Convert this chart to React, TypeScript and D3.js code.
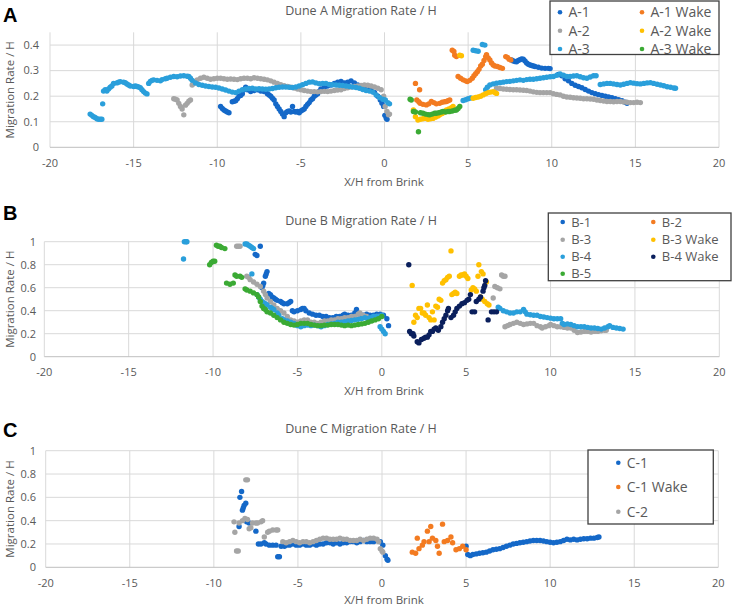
import React from "react"
import { scaleLinear } from "d3"

type P = [number, number]

// ---- data ----
const xTicks = [-20, -15, -10, -5, 0, 5, 10, 15, 20]
const yTicksA = [0, 0.1, 0.2, 0.3, 0.4]
const yTicksBC = [0, 0.2, 0.4, 0.6, 0.8, 1]

const a1: P[] = [
  [-9.8, 0.16], [-9.7, 0.152], [-9.6, 0.146], [-9.5, 0.142], [-9.4, 0.138], [-9.3, 0.135], [-9.1, 0.178],
  [-9.0, 0.18], [-8.9, 0.182], [-8.8, 0.19], [-8.7, 0.2], [-8.6, 0.203], [-8.5, 0.21], [-8.4, 0.225],
  [-8.3, 0.235], [-8.2, 0.225], [-8.0, 0.218], [-7.8, 0.222], [-7.6, 0.225], [-7.4, 0.22], [-7.2, 0.218],
  [-7.0, 0.21], [-6.9, 0.205], [-6.8, 0.2], [-6.7, 0.192], [-6.6, 0.185], [-6.5, 0.17], [-6.4, 0.16],
  [-6.3, 0.15], [-6.2, 0.14], [-6.1, 0.13], [-6.0, 0.12], [-5.9, 0.135], [-5.8, 0.14], [-5.7, 0.142],
  [-5.6, 0.138], [-5.5, 0.16], [-5.4, 0.14], [-5.3, 0.138], [-5.2, 0.14], [-5.1, 0.135], [-5.0, 0.142],
  [-4.9, 0.146], [-4.8, 0.15], [-4.7, 0.16], [-4.6, 0.168], [-4.5, 0.175], [-4.4, 0.185], [-4.3, 0.19],
  [-4.2, 0.2], [-4.1, 0.205], [-4.0, 0.21], [-3.9, 0.22], [-3.8, 0.228], [-3.6, 0.234], [-3.4, 0.24],
  [-3.2, 0.244], [-3.0, 0.25], [-2.8, 0.255], [-2.6, 0.258], [-2.4, 0.252], [-2.2, 0.255], [-2.0, 0.26],
  [-1.8, 0.252], [-1.6, 0.244], [-1.4, 0.236], [-1.2, 0.231], [-1.0, 0.228], [-0.8, 0.225], [-0.6, 0.215],
  [-0.4, 0.2], [-0.25, 0.185], [-0.15, 0.172], [-0.05, 0.16], [0.02, 0.125], [0.1, 0.115], [0.15, 0.11],
  [7.6, 0.342], [7.7, 0.338], [7.8, 0.336], [7.9, 0.335], [8.0, 0.34], [8.1, 0.343], [8.2, 0.346],
  [8.3, 0.345], [8.4, 0.338], [8.5, 0.33], [8.6, 0.325], [8.7, 0.322], [8.8, 0.32], [8.9, 0.318],
  [9.0, 0.316], [9.2, 0.313], [9.4, 0.31], [9.6, 0.309], [9.8, 0.309], [9.9, 0.308], [10.4, 0.285],
  [10.6, 0.28], [10.8, 0.268], [11.0, 0.26], [11.2, 0.25], [11.4, 0.243], [11.6, 0.238], [11.8, 0.233],
  [12.0, 0.226], [12.2, 0.22], [12.4, 0.214], [12.6, 0.21], [12.8, 0.206], [13.0, 0.203], [13.2, 0.2],
  [13.4, 0.197], [13.6, 0.194], [13.8, 0.19], [14.0, 0.186], [14.2, 0.182], [14.4, 0.176], [14.5, 0.172],
]

const a2: P[] = [
  [-12.6, 0.19], [-12.5, 0.188], [-12.4, 0.185], [-12.3, 0.172], [-12.2, 0.16], [-12.1, 0.15], [-12.0, 0.127],
  [-11.9, 0.165], [-11.8, 0.172], [-11.7, 0.18], [-11.6, 0.185], [-11.5, 0.244], [-11.4, 0.25], [-11.3, 0.258],
  [-11.2, 0.264], [-11.0, 0.27], [-10.8, 0.274], [-10.6, 0.27], [-10.4, 0.266], [-10.2, 0.268], [-10.0, 0.27],
  [-9.8, 0.27], [-9.6, 0.268], [-9.4, 0.266], [-9.2, 0.267], [-9.0, 0.266], [-8.8, 0.265], [-8.6, 0.268],
  [-8.4, 0.27], [-8.2, 0.27], [-8.0, 0.268], [-7.8, 0.272], [-7.6, 0.27], [-7.4, 0.268], [-7.2, 0.266],
  [-7.0, 0.264], [-6.8, 0.26], [-6.6, 0.255], [-6.4, 0.25], [-6.2, 0.245], [-6.0, 0.241], [-5.8, 0.238],
  [-5.6, 0.235], [-5.4, 0.232], [-5.2, 0.228], [-5.0, 0.225], [-4.8, 0.222], [-4.6, 0.22], [-4.4, 0.218],
  [-4.2, 0.218], [-4.0, 0.217], [-3.8, 0.218], [-3.6, 0.219], [-3.4, 0.218], [-3.2, 0.22], [-3.0, 0.222],
  [-2.8, 0.224], [-2.6, 0.225], [-2.4, 0.23], [-2.2, 0.233], [-2.0, 0.236], [-1.8, 0.238], [-1.6, 0.24],
  [-1.4, 0.242], [-1.2, 0.244], [-1.0, 0.243], [-0.8, 0.24], [-0.6, 0.236], [-0.4, 0.231], [-0.2, 0.225],
  [-0.05, 0.2], [0.04, 0.16], [0.15, 0.14], [0.24, 0.127], [0.3, 0.13],
  [6.7, 0.231], [6.9, 0.23], [7.1, 0.228], [7.3, 0.227], [7.5, 0.226], [7.7, 0.225], [7.9, 0.225],
  [8.1, 0.224], [8.3, 0.223], [8.5, 0.222], [8.7, 0.22], [8.9, 0.217], [9.1, 0.215], [9.3, 0.214],
  [9.5, 0.214], [9.7, 0.214], [9.9, 0.214], [10.1, 0.21], [10.3, 0.207], [10.5, 0.205], [10.7, 0.2],
  [10.9, 0.197], [11.1, 0.196], [11.3, 0.194], [11.5, 0.193], [11.7, 0.192], [11.9, 0.19], [12.1, 0.19],
  [12.3, 0.189], [12.5, 0.188], [12.7, 0.185], [12.9, 0.183], [13.1, 0.181], [13.3, 0.179], [13.5, 0.179],
  [13.7, 0.178], [13.9, 0.179], [14.1, 0.179], [14.3, 0.177], [14.5, 0.176], [14.7, 0.175], [14.9, 0.175],
  [15.1, 0.176], [15.3, 0.175],
]

const a3: P[] = [
  [-17.6, 0.13], [-17.5, 0.125], [-17.4, 0.12], [-17.3, 0.117], [-17.2, 0.112], [-17.1, 0.11], [-17.0, 0.11],
  [-16.9, 0.11], [-16.85, 0.17], [-16.8, 0.22], [-16.7, 0.225], [-16.6, 0.22], [-16.5, 0.228], [-16.4, 0.235],
  [-16.3, 0.24], [-16.2, 0.25], [-16.0, 0.252], [-15.9, 0.255], [-15.8, 0.257], [-15.6, 0.255], [-15.5, 0.253],
  [-15.4, 0.248], [-15.3, 0.244], [-15.2, 0.24], [-15.0, 0.238], [-14.9, 0.24], [-14.8, 0.238], [-14.7, 0.236],
  [-14.6, 0.233], [-14.5, 0.225], [-14.4, 0.218], [-14.3, 0.212], [-14.2, 0.209], [-14.1, 0.25], [-14.0, 0.258],
  [-13.9, 0.262], [-13.8, 0.264], [-13.6, 0.262], [-13.4, 0.26], [-13.3, 0.265], [-13.1, 0.268], [-13.0, 0.27],
  [-12.8, 0.274], [-12.6, 0.277], [-12.4, 0.276], [-12.2, 0.279], [-12.0, 0.28], [-11.8, 0.278], [-11.7, 0.277],
  [-11.6, 0.27], [-11.5, 0.262], [-11.3, 0.252], [-11.1, 0.246], [-10.9, 0.243], [-10.7, 0.24], [-10.5, 0.238],
  [-10.3, 0.236], [-10.1, 0.235], [-9.9, 0.232], [-9.7, 0.228], [-9.5, 0.224], [-9.3, 0.22], [-9.1, 0.216],
  [-8.9, 0.214], [-8.7, 0.22], [-8.5, 0.225], [-8.3, 0.228], [-8.1, 0.23], [-7.9, 0.231], [-7.7, 0.228],
  [-7.5, 0.229], [-7.3, 0.228], [-7.1, 0.227], [-6.9, 0.228], [-6.7, 0.23], [-6.5, 0.233], [-6.3, 0.235],
  [-6.1, 0.236], [-5.9, 0.236], [-5.7, 0.235], [-5.5, 0.234], [-5.3, 0.236], [-5.1, 0.24], [-4.9, 0.245],
  [-4.7, 0.25], [-4.5, 0.255], [-4.3, 0.256], [-4.1, 0.252], [-3.9, 0.249], [-3.7, 0.25], [-3.5, 0.25],
  [-3.3, 0.246], [-3.1, 0.245], [-2.9, 0.244], [-2.7, 0.243], [-2.5, 0.242], [-2.3, 0.24], [-2.1, 0.238],
  [-1.9, 0.236], [-1.7, 0.234], [-1.5, 0.231], [-1.3, 0.226], [-1.1, 0.222], [-0.9, 0.22], [-0.7, 0.216],
  [-0.5, 0.205], [-0.3, 0.195], [-0.1, 0.188], [0.05, 0.185], [0.2, 0.175], [0.3, 0.17],
  [4.7, 0.183], [4.85, 0.186], [5.0, 0.19], [5.15, 0.193], [5.3, 0.38], [5.45, 0.378], [5.6, 0.376],
  [5.85, 0.402], [6.0, 0.4], [6.05, 0.225], [6.15, 0.235], [6.3, 0.244], [6.5, 0.248], [6.7, 0.251],
  [6.9, 0.253], [7.1, 0.255], [7.3, 0.257], [7.5, 0.258], [7.7, 0.26], [7.9, 0.262], [8.1, 0.264],
  [8.3, 0.262], [8.5, 0.265], [8.7, 0.266], [8.9, 0.266], [9.1, 0.268], [9.3, 0.27], [9.5, 0.272],
  [9.7, 0.274], [9.9, 0.276], [10.1, 0.277], [10.3, 0.282], [10.5, 0.287], [10.7, 0.282], [10.9, 0.277],
  [11.1, 0.277], [11.3, 0.279], [11.5, 0.28], [11.7, 0.276], [11.9, 0.272], [12.1, 0.27], [12.3, 0.275],
  [12.5, 0.28], [12.65, 0.28], [12.9, 0.246], [13.1, 0.248], [13.3, 0.25], [13.5, 0.25], [13.7, 0.248],
  [13.9, 0.246], [14.1, 0.244], [14.3, 0.247], [14.5, 0.25], [14.7, 0.253], [14.9, 0.251], [15.1, 0.249],
  [15.3, 0.248], [15.5, 0.25], [15.7, 0.252], [15.9, 0.253], [16.1, 0.25], [16.3, 0.247], [16.5, 0.244],
  [16.7, 0.241], [16.9, 0.237], [17.1, 0.235], [17.3, 0.232], [17.4, 0.231],
]

const a1Wake: P[] = [
  [1.85, 0.25], [2.1, 0.225], [1.93, 0.185], [2.05, 0.178], [2.13, 0.172], [2.3, 0.168], [2.5, 0.166],
  [2.65, 0.17], [2.8, 0.179], [2.95, 0.175], [3.1, 0.17], [3.3, 0.172], [3.45, 0.176], [3.6, 0.178],
  [3.7, 0.179], [3.8, 0.182], [3.9, 0.185], [4.05, 0.38], [4.15, 0.375], [4.2, 0.36], [4.3, 0.355],
  [4.4, 0.277], [4.55, 0.27], [4.7, 0.264], [4.85, 0.26], [4.95, 0.257], [5.1, 0.262], [5.25, 0.27],
  [5.35, 0.28], [5.45, 0.288], [5.55, 0.296], [5.65, 0.305], [5.75, 0.318], [5.85, 0.325], [5.95, 0.34],
  [6.05, 0.355], [6.1, 0.362], [6.2, 0.35], [6.3, 0.342], [6.4, 0.33], [6.5, 0.322], [6.6, 0.318],
  [6.75, 0.316], [6.9, 0.312], [7.05, 0.309], [7.25, 0.355], [7.35, 0.352], [7.45, 0.345], [7.55, 0.342],
]

const a2Wake: P[] = [
  [1.73, 0.146], [1.85, 0.12], [2.0, 0.107], [2.15, 0.11], [2.3, 0.112], [2.4, 0.113], [2.6, 0.11],
  [2.75, 0.112], [2.9, 0.113], [3.05, 0.118], [3.2, 0.122], [3.3, 0.127], [3.45, 0.132], [3.6, 0.138],
  [3.7, 0.146], [3.85, 0.15], [4.0, 0.155], [4.1, 0.16], [4.5, 0.36], [4.6, 0.358], [5.3, 0.192],
  [5.45, 0.195], [5.6, 0.197], [5.75, 0.2], [5.9, 0.205], [6.05, 0.21], [6.2, 0.214], [6.35, 0.216],
  [6.5, 0.218], [6.6, 0.214], [6.7, 0.211],
]

const a3Wake: P[] = [
  [1.53, 0.188], [1.6, 0.185], [1.73, 0.14], [1.85, 0.138], [2.03, 0.061], [2.15, 0.135], [2.3, 0.133],
  [2.45, 0.13], [2.6, 0.128], [2.7, 0.127], [2.85, 0.13], [3.0, 0.133], [3.1, 0.133], [3.25, 0.135],
  [3.4, 0.138], [3.5, 0.14], [3.65, 0.138], [3.8, 0.14], [3.9, 0.14], [4.05, 0.142], [4.2, 0.145],
  [4.3, 0.146], [4.4, 0.152], [4.5, 0.16],
]

const b1: P[] = [
  [-7.5, 0.89], [-7.4, 0.88], [-7.2, 0.96], [-6.8, 0.74], [-6.85, 0.72], [-6.9, 0.7], [-7.0, 0.64],
  [-7.05, 0.62], [-7.1, 0.6], [-6.7, 0.55], [-6.6, 0.54], [-6.5, 0.52], [-6.4, 0.51], [-6.3, 0.5],
  [-6.2, 0.49], [-6.0, 0.48], [-5.9, 0.47], [-5.8, 0.46], [-5.6, 0.46], [-5.5, 0.47], [-5.4, 0.48],
  [-5.3, 0.4], [-5.2, 0.39], [-5.0, 0.4], [-4.8, 0.41], [-4.7, 0.42], [-4.6, 0.42], [-4.5, 0.4],
  [-4.3, 0.38], [-4.1, 0.37], [-3.9, 0.36], [-3.7, 0.36], [-3.5, 0.35], [-3.3, 0.35], [-3.1, 0.34],
  [-2.9, 0.34], [-2.7, 0.35], [-2.5, 0.35], [-2.3, 0.36], [-2.2, 0.37], [-2.0, 0.36], [-1.8, 0.36],
  [-1.6, 0.38], [-1.5, 0.41], [-1.3, 0.37], [-1.1, 0.36], [-0.9, 0.37], [-0.7, 0.36], [-0.5, 0.36],
  [-0.3, 0.37], [-0.1, 0.37], [0.1, 0.36], [0.3, 0.33], [0.4, 0.27],
]

const b2: P[] = []

const b3: P[] = [
  [-8.6, 0.96], [-8.5, 0.96], [-8.4, 0.96], [-8.0, 0.7], [-7.9, 0.69], [-7.8, 0.67], [-7.6, 0.65],
  [-7.4, 0.63], [-7.2, 0.61], [-7.0, 0.57], [-6.9, 0.54], [-6.8, 0.51], [-6.6, 0.48], [-6.4, 0.45],
  [-6.2, 0.42], [-6.0, 0.4], [-5.8, 0.38], [-5.6, 0.35], [-5.4, 0.32], [-5.2, 0.31], [-5.0, 0.3],
  [-4.8, 0.31], [-4.6, 0.32], [-4.4, 0.32], [-4.2, 0.3], [-4.0, 0.3], [-3.8, 0.29], [-3.6, 0.3],
  [-3.4, 0.31], [-3.2, 0.31], [-3.0, 0.32], [-2.8, 0.32], [-2.6, 0.33], [-2.4, 0.33], [-2.2, 0.34],
  [-2.0, 0.34], [-1.8, 0.35], [-1.6, 0.35], [-1.4, 0.37], [-1.3, 0.38], [-1.1, 0.36], [-0.9, 0.35],
  [-0.7, 0.33], [-0.5, 0.34], [-0.3, 0.35], [-0.2, 0.35],
  [6.6, 0.51], [6.7, 0.61], [6.85, 0.6], [7.0, 0.59], [7.1, 0.71], [7.2, 0.7], [7.3, 0.7],
  [7.3, 0.26], [7.45, 0.27], [7.6, 0.28], [7.8, 0.29], [8.0, 0.3], [8.2, 0.29], [8.4, 0.28],
  [8.6, 0.285], [8.8, 0.29], [9.0, 0.29], [9.2, 0.27], [9.4, 0.26], [9.5, 0.25], [9.7, 0.26],
  [9.9, 0.27], [10.0, 0.28], [10.2, 0.27], [10.4, 0.26], [10.6, 0.26], [10.8, 0.255], [11.0, 0.25],
  [11.2, 0.25], [11.4, 0.23], [11.6, 0.21], [11.8, 0.215], [12.0, 0.22], [12.2, 0.22], [12.4, 0.215],
  [12.6, 0.22], [12.8, 0.22], [13.0, 0.225], [13.2, 0.23], [13.3, 0.23],
]

const b4: P[] = [
  [-11.7, 1.0], [-11.6, 1.0], [-11.55, 1.0], [-11.75, 0.85], [-8.1, 0.98], [-8.0, 0.98], [-7.9, 0.97],
  [-7.8, 0.96], [-7.7, 0.95], [-7.6, 0.94], [-7.7, 0.72], [-7.4, 0.54], [-7.3, 0.52], [-7.2, 0.5],
  [-7.1, 0.48], [-7.0, 0.47], [-6.9, 0.46], [-6.8, 0.45], [-6.6, 0.43], [-6.5, 0.42], [-6.4, 0.41],
  [-6.2, 0.38], [-6.1, 0.36], [-5.9, 0.33], [-5.8, 0.32], [-5.6, 0.31], [-5.4, 0.3], [-5.2, 0.29],
  [-5.0, 0.27], [-4.8, 0.26], [-4.6, 0.27], [-4.4, 0.275], [-4.2, 0.27], [-4.0, 0.275], [-3.8, 0.27],
  [-3.6, 0.26], [-3.4, 0.27], [-3.2, 0.28], [-3.0, 0.285], [-2.8, 0.29], [-2.6, 0.3], [-2.4, 0.3],
  [-2.2, 0.305], [-2.0, 0.31], [-1.8, 0.315], [-1.6, 0.32], [-1.4, 0.325], [-1.2, 0.33], [-1.0, 0.34],
  [-0.85, 0.33], [-0.7, 0.34], [-0.5, 0.35], [-0.3, 0.35], [-0.1, 0.35], [0.0, 0.36], [-0.1, 0.26],
  [0.0, 0.24], [0.1, 0.22], [0.2, 0.2],
  [6.9, 0.43], [7.0, 0.42], [7.2, 0.4], [7.4, 0.39], [7.6, 0.38], [7.8, 0.38], [8.0, 0.39],
  [8.2, 0.39], [8.4, 0.41], [8.5, 0.39], [8.6, 0.37], [8.8, 0.365], [9.0, 0.36], [9.2, 0.36],
  [9.4, 0.35], [9.6, 0.345], [9.8, 0.34], [10.0, 0.335], [10.2, 0.33], [10.4, 0.33], [10.6, 0.33],
  [10.7, 0.29], [10.8, 0.28], [11.0, 0.285], [11.2, 0.28], [11.4, 0.27], [11.6, 0.26], [11.8, 0.26],
  [12.0, 0.26], [12.2, 0.255], [12.4, 0.25], [12.6, 0.25], [12.8, 0.245], [13.0, 0.24], [13.2, 0.25],
  [13.4, 0.26], [13.5, 0.27], [13.7, 0.255], [13.9, 0.25], [14.1, 0.245], [14.3, 0.24],
]

const b5: P[] = [
  [-10.2, 0.8], [-10.1, 0.82], [-10.0, 0.83], [-9.9, 0.83], [-9.8, 0.97], [-9.7, 0.96], [-9.6, 0.96],
  [-9.5, 0.95], [-9.3, 0.94], [-9.2, 0.64], [-9.0, 0.63], [-8.8, 0.64], [-8.7, 0.71], [-8.6, 0.7],
  [-8.4, 0.7], [-8.3, 0.69], [-8.1, 0.59], [-8.0, 0.58], [-7.8, 0.57], [-7.6, 0.555], [-7.4, 0.54],
  [-7.3, 0.52], [-7.2, 0.48], [-7.1, 0.44], [-7.0, 0.42], [-6.9, 0.41], [-6.8, 0.39], [-6.6, 0.38],
  [-6.4, 0.36], [-6.2, 0.34], [-6.0, 0.32], [-5.8, 0.3], [-5.6, 0.29], [-5.4, 0.28], [-5.2, 0.275],
  [-5.0, 0.28], [-4.8, 0.29], [-4.6, 0.29], [-4.4, 0.29], [-4.2, 0.28], [-4.0, 0.275], [-3.8, 0.27],
  [-3.6, 0.27], [-3.4, 0.275], [-3.2, 0.275], [-3.0, 0.28], [-2.8, 0.28], [-2.6, 0.28], [-2.4, 0.275],
  [-2.2, 0.27], [-2.0, 0.275], [-1.8, 0.27], [-1.6, 0.275], [-1.4, 0.28], [-1.2, 0.285], [-1.0, 0.29],
  [-0.8, 0.3], [-0.6, 0.31], [-0.4, 0.32], [-0.2, 0.33], [0.0, 0.35],
]

const b3Wake: P[] = [
  [1.8, 0.62], [1.9, 0.3], [2.0, 0.36], [2.1, 0.34], [2.2, 0.42], [2.3, 0.42], [2.4, 0.38], [2.5, 0.38],
  [2.6, 0.36], [2.7, 0.45], [2.8, 0.34], [2.9, 0.32], [3.0, 0.39], [3.1, 0.32], [3.2, 0.44], [3.3, 0.43],
  [3.4, 0.5], [3.5, 0.49], [3.6, 0.64], [3.7, 0.66], [3.8, 0.67], [3.9, 0.69], [4.0, 0.7], [4.1, 0.92],
  [4.15, 0.54], [4.25, 0.55], [4.35, 0.56], [4.45, 0.55], [4.6, 0.7], [4.7, 0.71], [4.8, 0.71], [4.9, 0.72],
  [5.0, 0.7], [5.1, 0.68], [5.3, 0.58], [5.4, 0.6], [5.5, 0.59], [5.6, 0.57], [5.7, 0.7], [5.75, 0.8],
  [5.9, 0.74], [6.0, 0.72], [5.85, 0.52], [5.95, 0.5], [6.1, 0.48], [6.2, 0.65], [6.25, 0.46], [6.35, 0.45],
]

const b4Wake: P[] = [
  [1.6, 0.8], [1.65, 0.22], [1.75, 0.2], [1.85, 0.2], [1.9, 0.18], [2.1, 0.13], [2.2, 0.12], [2.35, 0.15],
  [2.5, 0.16], [2.6, 0.17], [2.7, 0.17], [2.8, 0.19], [2.9, 0.22], [3.0, 0.22], [3.1, 0.24], [3.2, 0.25],
  [3.35, 0.23], [3.5, 0.26], [3.6, 0.3], [3.7, 0.33], [3.8, 0.36], [3.9, 0.4], [3.95, 0.42], [4.1, 0.34],
  [4.25, 0.36], [4.35, 0.39], [4.45, 0.42], [4.6, 0.44], [4.75, 0.46], [4.9, 0.47], [5.05, 0.49], [5.15, 0.5],
  [5.25, 0.54], [5.35, 0.39], [5.5, 0.39], [5.6, 0.48], [5.75, 0.5], [5.85, 0.52], [6.0, 0.57], [6.05, 0.6],
  [6.1, 0.62], [6.15, 0.66], [6.3, 0.32], [6.5, 0.39], [6.65, 0.39], [6.8, 0.39],
]

const c1: P[] = [
  [-8.5, 0.35], [-8.45, 0.6], [-8.35, 0.65], [-8.3, 0.49], [-8.25, 0.51], [-8.2, 0.53], [-8.1, 0.55],
  [-8.05, 0.39], [-7.9, 0.38], [-7.5, 0.31], [-7.35, 0.2], [-7.2, 0.2], [-7.0, 0.21], [-6.9, 0.2],
  [-6.7, 0.19], [-6.5, 0.19], [-6.3, 0.19], [-6.2, 0.09], [-6.1, 0.09], [-6.0, 0.18], [-5.8, 0.18],
  [-5.7, 0.19], [-5.5, 0.19], [-5.3, 0.2], [-5.1, 0.19], [-4.9, 0.19], [-4.7, 0.2], [-4.5, 0.19],
  [-4.3, 0.19], [-4.1, 0.2], [-3.9, 0.19], [-3.7, 0.2], [-3.5, 0.2], [-3.3, 0.21], [-3.1, 0.21],
  [-2.9, 0.2], [-2.7, 0.21], [-2.5, 0.2], [-2.3, 0.21], [-2.1, 0.21], [-1.9, 0.22], [-1.7, 0.22],
  [-1.5, 0.21], [-1.3, 0.22], [-1.1, 0.23], [-0.9, 0.22], [-0.7, 0.22], [-0.5, 0.22], [-0.3, 0.23],
  [-0.1, 0.22], [0.05, 0.19], [0.2, 0.1], [0.3, 0.07], [0.35, 0.06],
  [5.0, 0.18], [5.1, 0.11], [5.25, 0.1], [5.4, 0.11], [5.6, 0.115], [5.8, 0.12], [6.0, 0.125], [6.2, 0.13],
  [6.4, 0.14], [6.6, 0.15], [6.8, 0.155], [7.0, 0.16], [7.2, 0.17], [7.4, 0.18], [7.6, 0.19], [7.8, 0.2],
  [8.0, 0.205], [8.2, 0.21], [8.4, 0.215], [8.6, 0.22], [8.8, 0.225], [9.0, 0.23], [9.2, 0.23], [9.4, 0.23],
  [9.6, 0.225], [9.8, 0.22], [10.0, 0.215], [10.2, 0.21], [10.4, 0.215], [10.6, 0.22], [10.8, 0.23],
  [11.0, 0.24], [11.2, 0.235], [11.4, 0.24], [11.6, 0.235], [11.8, 0.24], [12.0, 0.245], [12.2, 0.245],
  [12.4, 0.25], [12.6, 0.25], [12.8, 0.255], [12.9, 0.26],
]

const c1Wake: P[] = [
  [1.8, 0.13], [2.0, 0.12], [2.1, 0.25], [2.2, 0.16], [2.4, 0.19], [2.5, 0.22], [2.7, 0.31], [2.8, 0.22],
  [2.9, 0.35], [3.0, 0.25], [3.2, 0.23], [3.3, 0.18], [3.4, 0.12], [3.6, 0.37], [3.7, 0.22], [3.9, 0.23],
  [4.1, 0.26], [4.2, 0.21], [4.4, 0.15], [4.6, 0.16], [4.8, 0.18], [5.0, 0.15],
]

const c2: P[] = [
  [-8.8, 0.39], [-8.75, 0.3], [-8.65, 0.14], [-8.55, 0.14], [-8.5, 0.38], [-8.3, 0.4], [-8.1, 0.75],
  [-8.0, 0.75], [-8.15, 0.42], [-8.0, 0.41], [-7.9, 0.33], [-7.8, 0.34], [-7.7, 0.38], [-7.5, 0.38],
  [-7.4, 0.38], [-7.2, 0.39], [-7.1, 0.4], [-7.0, 0.26], [-6.8, 0.3], [-6.7, 0.31], [-6.5, 0.32],
  [-6.3, 0.32], [-6.2, 0.32], [-5.9, 0.22], [-5.7, 0.21], [-5.5, 0.22], [-5.3, 0.23], [-5.1, 0.22],
  [-4.9, 0.21], [-4.7, 0.22], [-4.5, 0.22], [-4.3, 0.21], [-4.1, 0.22], [-3.9, 0.23], [-3.7, 0.24],
  [-3.5, 0.25], [-3.3, 0.25], [-3.1, 0.24], [-2.9, 0.24], [-2.7, 0.24], [-2.5, 0.25], [-2.3, 0.24],
  [-2.1, 0.24], [-1.9, 0.23], [-1.7, 0.23], [-1.5, 0.23], [-1.3, 0.24], [-1.1, 0.23], [-0.9, 0.24],
  [-0.7, 0.25], [-0.5, 0.25], [-0.3, 0.24], [-0.2, 0.22], [-0.1, 0.16], [0.0, 0.14], [0.05, 0.13],
]

// ---- colours ----
const BLUE = "#1468c8"
const GRAY = "#a5a5a5"
const LBLUE = "#2a9fdb"
const ORANGE = "#f37b21"
const YELLOW = "#ffc000"
const GREEN = "#3baa34"
const NAVY = "#0a1f5c"

type Series = { name: string; color: string; data: P[] }

type LegendCfg = {
  x0: number
  y0: number
  x1: number
  y1: number
  cols: number[] // marker x positions
  rows: number[] // row y positions
  fontSize: number
}

type PanelCfg = {
  letter: string
  title: string
  letterBase: number
  titleBase: number
  xRange: [number, number]
  yRange: [number, number]
  yMax: number
  yTicks: number[]
  yLabelRight: number
  xLabelY: number
  xTitleY: number
  legendSeries: Series[] // legend order (row-major)
  drawOrder: string[] // Excel plot order
  legend: LegendCfg
}

const FONT = "'Open Sans', 'Noto Sans', sans-serif"
const TXT = "#595959"

const Panel = ({ cfg }: { cfg: PanelCfg }) => {
  const x = scaleLinear().domain([-20, 20]).range(cfg.xRange)
  const y = scaleLinear().domain([0, cfg.yMax]).range(cfg.yRange)
  const [left, right] = cfg.xRange
  const [bottom, top] = cfg.yRange
  const byName = new Map(cfg.legendSeries.map((s) => [s.name, s]))
  const plotted = cfg.drawOrder.map((n) => byName.get(n)!)

  return (
    <g>
      <text x={3} y={cfg.letterBase} fontFamily="'Liberation Sans', Arial, sans-serif" fontWeight="bold" fontSize={20} fill="#000">
        {cfg.letter}
      </text>
      <text x={361} y={cfg.titleBase} textAnchor="middle" fontFamily={FONT} fontSize={12.5} fill={TXT}>
        {cfg.title}
      </text>

      {/* gridlines */}
      {cfg.yTicks.filter((t) => t > 0).map((t) => (
        <line key={"h" + t} x1={left} x2={right} y1={y(t)} y2={y(t)} stroke="#d9d9d9" strokeWidth={1} />
      ))}
      {xTicks.map((t) => (
        <line key={"v" + t} x1={x(t)} x2={x(t)} y1={bottom} y2={top} stroke="#d9d9d9" strokeWidth={1} />
      ))}
      <line x1={left} x2={right} y1={bottom} y2={bottom} stroke="#bfbfbf" strokeWidth={1} />

      {/* tick labels */}
      {cfg.yTicks.map((t) => (
        <text key={"yl" + t} x={cfg.yLabelRight} y={y(t)} dy="0.35em" textAnchor="end" fontFamily={FONT} fontSize={11} fill={TXT}>
          {t}
        </text>
      ))}
      {xTicks.map((t) => (
        <text key={"xl" + t} x={x(t)} y={cfg.xLabelY} dy="0.35em" textAnchor="middle" fontFamily={FONT} fontSize={11} fill={TXT}>
          {t}
        </text>
      ))}

      {/* axis titles */}
      <text x={384} y={cfg.xTitleY} dy="0.35em" textAnchor="middle" fontFamily={FONT} fontSize={11.5} fill={TXT}>
        X/H from Brink
      </text>
      <text
        transform={`translate(10,${(bottom + top) / 2}) rotate(-90)`}
        dy="0.35em"
        textAnchor="middle"
        fontFamily={FONT}
        fontSize={11.5}
        fill={TXT}
      >
        Migration Rate / H
      </text>

      {/* points */}
      {plotted.map((s) => (
        <g key={s.name} fill={s.color}>
          {s.data.map((d, i) => (
            <circle key={i} cx={x(d[0])} cy={y(d[1])} r={2.7} />
          ))}
        </g>
      ))}

      <Legend cfg={cfg} />
    </g>
  )
}

const Legend = ({ cfg }: { cfg: PanelCfg }) => {
  const lg = cfg.legend
  const nCols = lg.cols.length
  return (
    <g>
      <rect x={lg.x0} y={lg.y0} width={lg.x1 - lg.x0} height={lg.y1 - lg.y0} fill="#fff" stroke="#404040" strokeWidth={1.3} />
      {cfg.legendSeries.map((s, i) => {
        const cx = lg.cols[i % nCols]
        const cy = lg.rows[Math.floor(i / nCols)]
        return (
          <g key={"lg" + s.name}>
            <circle cx={cx} cy={cy} r={2.3} fill={s.color} />
            <text x={cx + 8.5} y={cy} dy="0.36em" fontFamily={FONT} fontSize={lg.fontSize} fill={TXT}>
              {s.name}
            </text>
          </g>
        )
      })}
    </g>
  )
}

const panels: PanelCfg[] = [
  {
    letter: "A",
    title: "Dune A Migration Rate / H",
    letterBase: 22,
    titleBase: 15,
    xRange: [50, 719],
    yRange: [147.3, 32.3],
    yMax: 0.45,
    yTicks: yTicksA,
    yLabelRight: 39,
    xLabelY: 163,
    xTitleY: 182,
    legendSeries: [
      { name: "A-1", color: BLUE, data: a1 },
      { name: "A-1 Wake", color: ORANGE, data: a1Wake },
      { name: "A-2", color: GRAY, data: a2 },
      { name: "A-2 Wake", color: YELLOW, data: a2Wake },
      { name: "A-3", color: LBLUE, data: a3 },
      { name: "A-3 Wake", color: GREEN, data: a3Wake },
    ],
    drawOrder: ["A-1", "A-2", "A-3", "A-1 Wake", "A-2 Wake", "A-3 Wake"],
    legend: { x0: 550, y0: 1, x1: 719, y1: 54.5, cols: [560, 642], rows: [12.3, 30.7, 49], fontSize: 14 },
  },
  {
    letter: "B",
    title: "Dune B Migration Rate / H",
    letterBase: 220,
    titleBase: 225,
    xRange: [44.3, 719.3],
    yRange: [356.7, 241.7],
    yMax: 1,
    yTicks: yTicksBC,
    yLabelRight: 36,
    xLabelY: 371.7,
    xTitleY: 391,
    legendSeries: [
      { name: "B-1", color: BLUE, data: b1 },
      { name: "B-2", color: ORANGE, data: b2 },
      { name: "B-3", color: GRAY, data: b3 },
      { name: "B-3 Wake", color: YELLOW, data: b3Wake },
      { name: "B-4", color: LBLUE, data: b4 },
      { name: "B-4 Wake", color: NAVY, data: b4Wake },
      { name: "B-5", color: GREEN, data: b5 },
    ],
    drawOrder: ["B-1", "B-2", "B-3", "B-4", "B-5", "B-3 Wake", "B-4 Wake"],
    legend: {
      x0: 548.3,
      y0: 213,
      x1: 731,
      y1: 280.7,
      cols: [562.7, 653.3],
      rows: [222, 239.7, 256.7, 273.7],
      fontSize: 13,
    },
  },
  {
    letter: "C",
    title: "Dune C Migration Rate / H",
    letterBase: 437,
    titleBase: 433,
    xRange: [45.7, 718.3],
    yRange: [567.3, 450.7],
    yMax: 1,
    yTicks: yTicksBC,
    yLabelRight: 36,
    xLabelY: 583.3,
    xTitleY: 600,
    legendSeries: [
      { name: "C-1", color: BLUE, data: c1 },
      { name: "C-1 Wake", color: ORANGE, data: c1Wake },
      { name: "C-2", color: GRAY, data: c2 },
    ],
    drawOrder: ["C-1", "C-1 Wake", "C-2"],
    legend: { x0: 588, y0: 450, x1: 713.3, y1: 524, cols: [618.3], rows: [462.7, 487, 511.7], fontSize: 14 },
  },
]

const App = () => {
  return (
    <svg width={733} height={609} style={{ position: "absolute", left: 0, top: 0, background: "#fff" }}>
      {panels.map((p) => (
        <Panel key={p.letter} cfg={p} />
      ))}
    </svg>
  )
}

export default App
